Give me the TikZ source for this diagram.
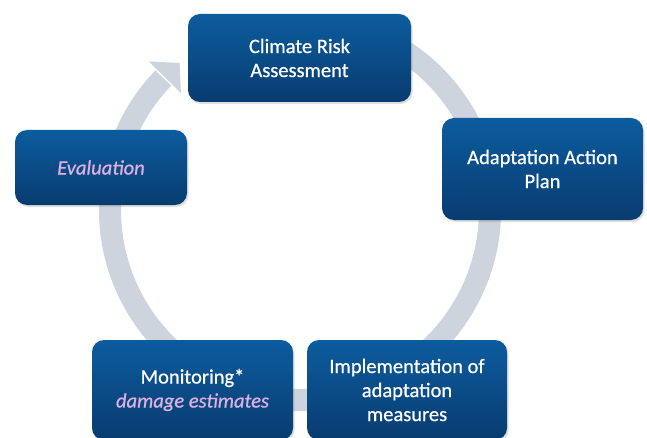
\documentclass[tikz,border=0pt]{standalone}
\usepackage{fontspec}
\setmainfont{Carlito}
\newfontfamily\stagefont{Carlito}[FakeBold=0.7]
\usetikzlibrary{shadows}
\definecolor{boxtop}{RGB}{12,92,158}
\definecolor{boxbot}{RGB}{8,60,112}
\definecolor{ringgray}{RGB}{206,212,221}
\definecolor{pinktext}{RGB}{224,176,224}
\tikzset{
  stage/.style={rounded corners=12pt, top color=boxtop, bottom color=boxbot,
    draw=none, text=white, align=center,
    font=\stagefont\fontsize{20.5}{24}\selectfont, inner sep=0pt,
    drop shadow={opacity=0.25, shadow xshift=1.5pt, shadow yshift=-2pt}},
  ring/.style={draw=ringgray, line width=22pt}
}
\begin{document}
\begin{tikzpicture}[x=1pt,y=1pt]
  \clip (0,0) rectangle (647,437);
  \fill[white] (0,0) rectangle (647,437);
  % cycle ring with its arrow head pointing back to the first stage
  \coordinate (c) at (300,227);
  \draw[ring] (c) ++(60:190) arc[start angle=60, end angle=-224, radius=190];
  \fill[ringgray, shift={(c)}] (135.5:212) -- (129.3:190) -- (135.5:167) -- cycle;
  % stages
  \node[stage, minimum width=223pt, minimum height=88pt] (risk) at (299.5,379)
    {Climate Risk\\Assessment};
  \node[stage, minimum width=201pt, minimum height=102pt] (plan) at (542.5,268)
    {Adaptation Action\\Plan};
  \node[stage, minimum width=200pt, minimum height=100pt] (impl) at (407,47)
    {Implementation of\\adaptation\\measures};
  \node[stage, minimum width=201pt, minimum height=100pt] (mon) at (192.5,47)
    {Monitoring*\\{\itshape\color{pinktext}damage estimates}};
  \node[stage, minimum width=172pt, minimum height=75pt] (eval) at (101,269.5)
    {\itshape\color{pinktext}Evaluation};
\end{tikzpicture}
\end{document}
